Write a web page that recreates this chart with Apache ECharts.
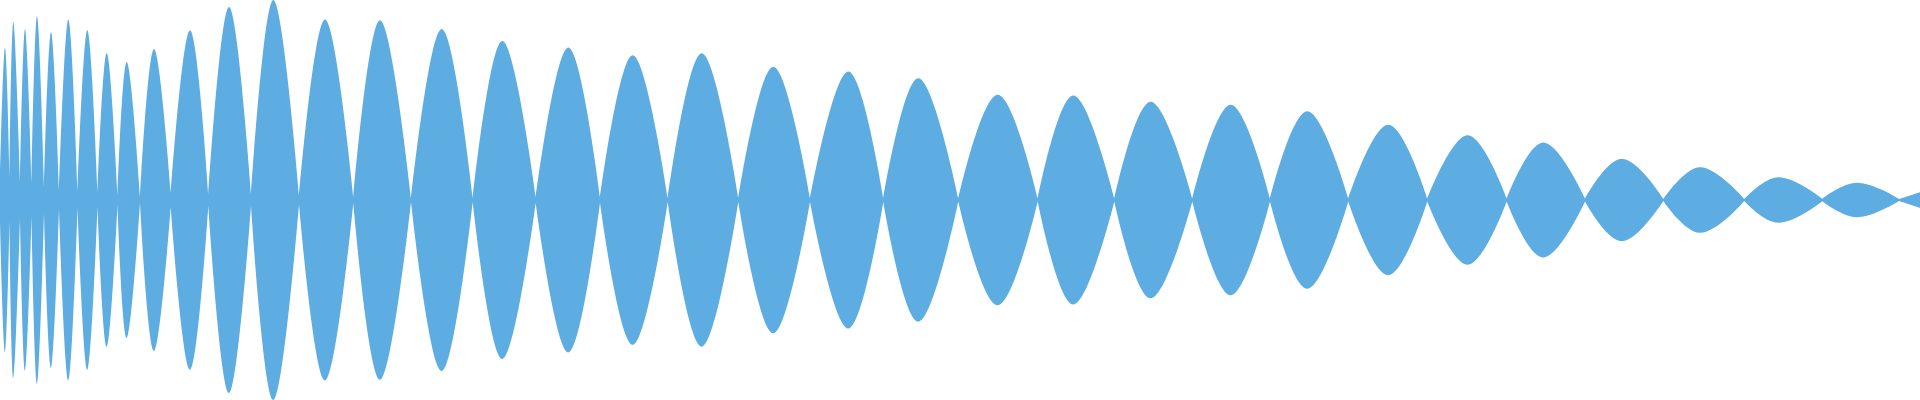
<!DOCTYPE html>
<html>
<head>
<meta charset="utf-8">
<script src="https://cdn.jsdelivr.net/npm/echarts@6/dist/echarts.min.js"></script>
<style>
html,body{margin:0;padding:0;background:#ffffff;}
#chart{width:1920px;height:400px;}
</style>
</head>
<body>
<div id="chart"></div>
<script>
// Positions of the pinch points (envelope minima) along the time axis
const crossX = [0, 9.5, 20, 31.5, 44, 59, 77.5, 97.5, 117.5, 140, 170.7, 208.3, 251, 299, 353.3, 411, 472.7, 535.7, 600, 667.7, 738.3, 810, 883.3, 958.3, 1037.7, 1114.3, 1192.3, 1270, 1348.3, 1427.3, 1506.7, 1585, 1663.3, 1744.3, 1822.3, 1899];
// Envelope value at each pinch point
const crossMin = [20, 21, 18, 16, 13, 9, 8, 7, 5, 3, 7, 6, 6, 4.5, 3.3, 2, 2, 3, 3, 2, 2, 2, 2, 1.5, 1.5, 1.5, 1.5, 1.5, 1.5, 1.5, 1.5, 1.5, 1, 1, 1.3, 1];
// Position and value of each lobe's peak
const peakX = [5, 13.3, 25, 37, 51, 68.3, 87.3, 106.7, 126.7, 154, 190, 229, 273.3, 325, 380, 441.7, 502.3, 568.3, 632.7, 701.7, 773.3, 848.3, 918.3, 997.7, 1073.3, 1150.7, 1230.7, 1307.3, 1388.3, 1467.7, 1543.3, 1621.7, 1700, 1778.3, 1856.7];
const peakAmp = [152.5, 178, 171, 184, 168, 180.5, 170, 147, 138, 151, 169.7, 193, 200, 180.5, 179.7, 171, 159, 152.5, 144.8, 146.7, 133.3, 128.5, 121.7, 105.2, 104.5, 98.3, 95.2, 88.7, 75.2, 64.7, 57.5, 41.2, 32.8, 22.8, 17.2];
// Final partial lobe at the right edge
const tailX = [1899, 1920];
const tailAmp = [1, 7.8];

function buildEnvelope(sign) {
  const d = [];
  for (let i = 0; i < peakX.length; i++) {
    d.push([crossX[i], sign * crossMin[i]]);
    d.push([peakX[i], sign * peakAmp[i]]);
    d.push([crossX[i + 1], sign * crossMin[i + 1]]);
    d.push([crossX[i + 1], '-']);
  }
  for (let j = 0; j < tailX.length; j++) d.push([tailX[j], sign * tailAmp[j]]);
  return d;
}

const color = '#5dace2';
const chart = echarts.init(document.getElementById('chart'), null, {renderer: 'canvas'});
const mkSeries = (sign) => ({
  type: 'line',
  data: buildEnvelope(sign),
  smooth: 0.4,
  showSymbol: false,
  connectNulls: false,
  lineStyle: {width: 0, color: color},
  itemStyle: {color: color},
  areaStyle: {color: color, opacity: 1, origin: -sign},
  silent: true
});
chart.setOption({
  animation: false,
  backgroundColor: '#ffffff',
  grid: {left: 0, right: 0, top: 0, bottom: 0, containLabel: false},
  xAxis: {
    type: 'value', min: 0, max: 1920, show: true,
    axisLine: {show: true, onZero: true, lineStyle: {color: color, width: 2}},
    axisTick: {show: false}, axisLabel: {show: false}, splitLine: {show: false}
  },
  yAxis: {type: 'value', min: -200, max: 200, show: false},
  series: [mkSeries(1), mkSeries(-1)]
});
</script>
</body>
</html>
